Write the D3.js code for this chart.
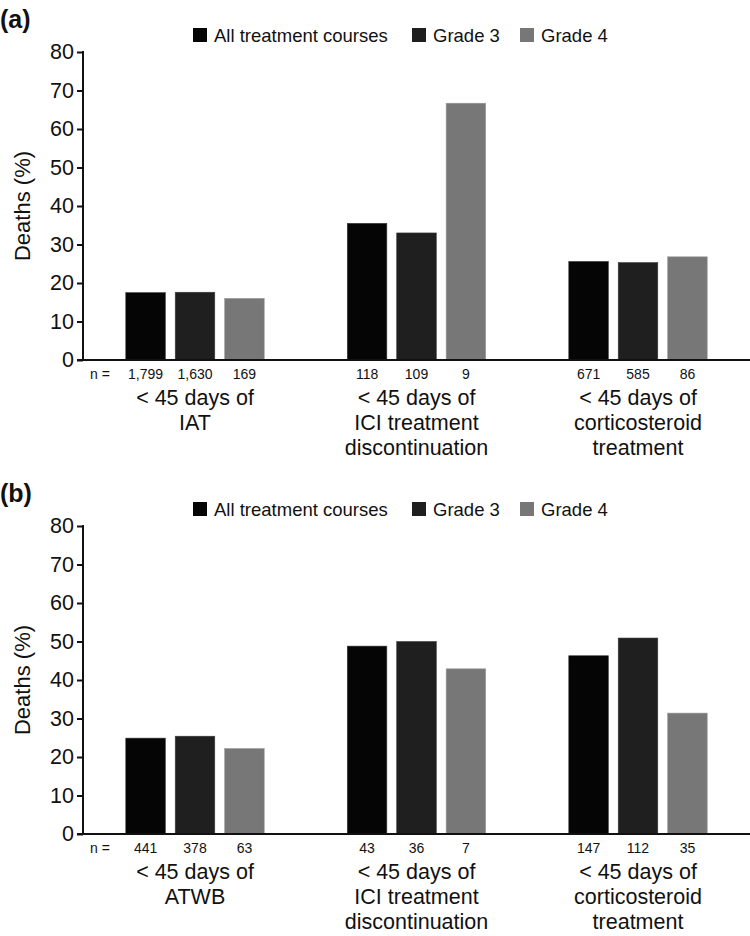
<!DOCTYPE html>
<html>
<head>
<meta charset="utf-8">
<script src="https://cdn.jsdelivr.net/npm/d3@7"></script>
<style>
  html, body { margin: 0; padding: 0; background: #fff; }
  svg { display: block; font-family: "Liberation Sans", Arial, sans-serif; }
</style>
</head>
<body>
<svg id="chart" width="750" height="936"></svg>
<script>
// ---- data ----
const series = ["All treatment courses", "Grade 3", "Grade 4"];
const seriesColors = ["#050505", "#1f1f1f", "#777777"];
const yTicks = [0, 10, 20, 30, 40, 50, 60, 70, 80];

const panelLabels = ["(a)", "(b)"];

const categoriesA = [
  ["< 45 days of", "IAT"],
  ["< 45 days of", "ICI treatment", "discontinuation"],
  ["< 45 days of", "corticosteroid", "treatment"]
];
const allCoursesA = [17.5, 35.5, 25.6];
const grade3A = [17.6, 33.0, 25.3];
const grade4A = [16.0, 66.7, 26.8];
const nAllA = ["1,799", "118", "671"];
const nG3A = ["1,630", "109", "585"];
const nG4A = ["169", "9", "86"];

const categoriesB = [
  ["< 45 days of", "ATWB"],
  ["< 45 days of", "ICI treatment", "discontinuation"],
  ["< 45 days of", "corticosteroid", "treatment"]
];
const allCoursesB = [24.9, 48.8, 46.3];
const grade3B = [25.4, 50.0, 50.9];
const grade4B = [22.2, 42.9, 31.4];
const nAllB = ["441", "43", "147"];
const nG3B = ["378", "36", "112"];
const nG4B = ["63", "7", "35"];

// ---- drawing ----
const svg = d3.select("#chart");

function drawPanel(offsetY, label, cats, vals, ns) {
  const g = svg.append("g").attr("transform", `translate(0,${offsetY})`);
  const y0 = 360, y1 = 52, xLeft = 83, xRight = 750;

  const y = d3.scaleLinear().domain([0, 80]).range([y0, y1]);
  const x = d3.scaleBand().domain(d3.range(cats.length)).range([84.25, 748.75]).padding(0);
  const xs = d3.scaleBand().domain(d3.range(series.length)).range([0, x.bandwidth()])
    .paddingInner(0.2).paddingOuter(0.84);

  // panel label
  g.append("text").attr("x", 0).attr("y", 28)
    .attr("font-size", 25).attr("font-weight", "bold").attr("fill", "#111").text(label);

  // legend
  const legX = [193, 412, 520];
  const leg = g.append("g");
  series.forEach((s, i) => {
    leg.append("rect").attr("x", legX[i]).attr("y", 28).attr("width", 14).attr("height", 14)
      .attr("fill", seriesColors[i]);
    leg.append("text").attr("x", legX[i] + 21).attr("y", 41.5)
      .attr("font-size", 18.5).attr("fill", "#111").text(s);
  });

  // bars
  cats.forEach((c, ci) => {
    series.forEach((s, si) => {
      const v = vals[si][ci];
      g.append("rect")
        .attr("x", x(ci) + xs(si))
        .attr("y", y(v))
        .attr("width", xs.bandwidth())
        .attr("height", y(0) - y(v))
        .attr("fill", seriesColors[si])
        .attr("stroke", si === 2 ? "#9a9a9a" : "#3a3a3a")
        .attr("stroke-width", 0.6);
      g.append("text")
        .attr("x", x(ci) + xs(si) + xs.bandwidth() / 2)
        .attr("y", 378.5)
        .attr("text-anchor", "middle")
        .attr("font-size", 14).attr("fill", "#111")
        .text(ns[si][ci]);
    });
    // category label
    const t = g.append("text")
      .attr("x", x(ci) + x.bandwidth() / 2)
      .attr("y", 405)
      .attr("text-anchor", "middle")
      .attr("font-size", 21.5).attr("fill", "#111");
    c.forEach((line, li) => {
      t.append("tspan").attr("x", x(ci) + x.bandwidth() / 2)
        .attr("dy", li === 0 ? 0 : 25).text(line);
    });
  });

  // n = label
  g.append("text").attr("x", 100).attr("y", 378.5).attr("text-anchor", "middle")
    .attr("font-size", 14).attr("fill", "#111").text("n =");

  // y axis
  const yAxis = d3.axisLeft(y).tickValues(yTicks).tickSize(6).tickPadding(3).tickFormat(d3.format("d"));
  const ya = g.append("g").attr("transform", `translate(${xLeft},0)`).call(yAxis);
  ya.select(".domain").remove();
  ya.selectAll(".tick line").attr("stroke", "#111").attr("stroke-width", 2);
  ya.selectAll(".tick text").attr("font-size", 21.5).attr("fill", "#111")
    .attr("font-family", "'Liberation Sans', Arial, sans-serif");
  g.append("line").attr("x1", xLeft).attr("x2", xLeft).attr("y1", y(80) - 1).attr("y2", y0)
    .attr("stroke", "#111").attr("stroke-width", 2);

  // x axis line
  g.append("line").attr("x1", xLeft - 6).attr("x2", xRight).attr("y1", y0).attr("y2", y0)
    .attr("stroke", "#111").attr("stroke-width", 2.2);

  // y label
  g.append("text")
    .attr("transform", `translate(30,${(y0 + y1) / 2}) rotate(-90)`)
    .attr("text-anchor", "middle")
    .attr("font-size", 22).attr("fill", "#111")
    .text("Deaths (%)");
}

drawPanel(0, panelLabels[0], categoriesA, [allCoursesA, grade3A, grade4A], [nAllA, nG3A, nG4A]);
drawPanel(474, panelLabels[1], categoriesB, [allCoursesB, grade3B, grade4B], [nAllB, nG3B, nG4B]);
</script>
</body>
</html>
